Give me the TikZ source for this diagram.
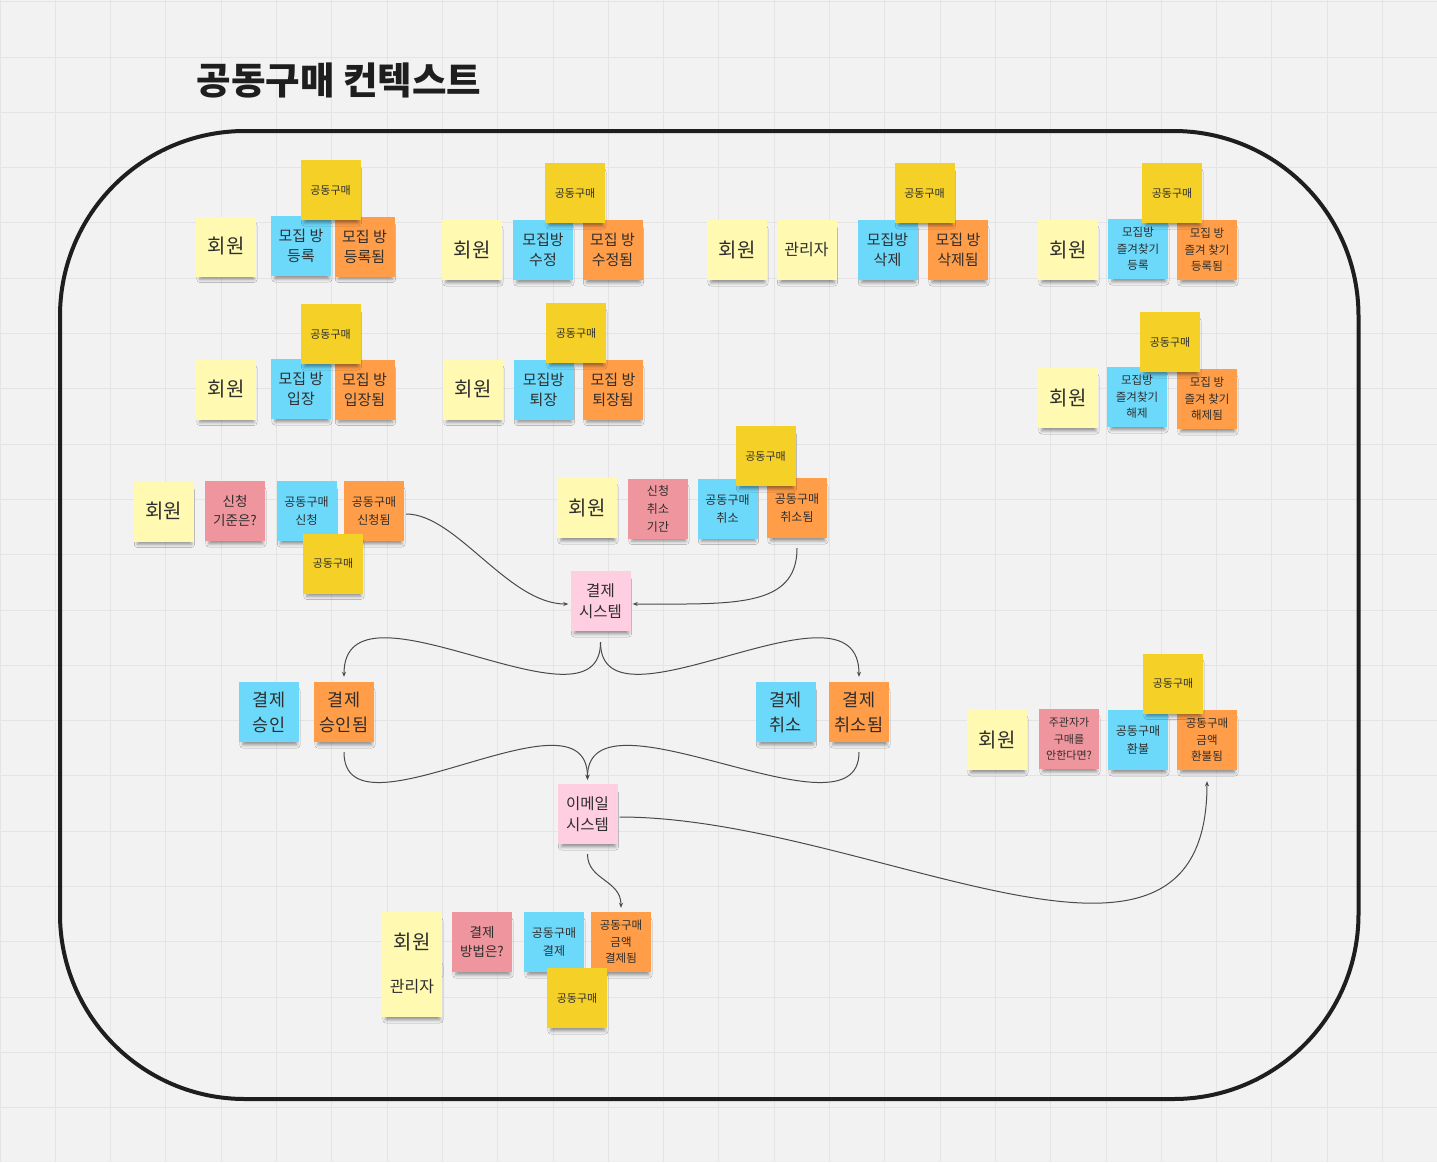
\documentclass[tikz,border=0pt]{standalone}
\usepackage{fontspec}
\newfontfamily\kr{Noto Sans CJK KR}
\usetikzlibrary{arrows.meta,shadows.blur}

\definecolor{bg}{HTML}{F2F2F2}
\definecolor{gridc}{HTML}{E4E4E4}
\definecolor{framec}{HTML}{1E1E1E}
\definecolor{ink}{HTML}{2E2E2E}
\definecolor{lineg}{HTML}{4A4A4A}
\definecolor{lyel}{HTML}{FFF9B1}
\definecolor{lblue}{HTML}{6CD8FA}
\definecolor{orng}{HTML}{FF9D48}
\definecolor{gold}{HTML}{F5D128}
\definecolor{rose}{HTML}{EF959D}
\definecolor{lpink}{HTML}{FFCEE0}

\tikzset{
  note/.style={minimum width=60pt, minimum height=60pt, inner sep=0pt,
    align=center, text=ink,
    blur shadow={shadow xshift=1pt, shadow yshift=-6.5pt,
      shadow blur radius=3.5pt, shadow opacity=40, shadow scale=0.9}},
  member/.style={note, fill=lyel},
  cmd/.style={note, fill=lblue},
  evt/.style={note, fill=orng},
  agg/.style={note, fill=gold},
  pol/.style={note, fill=rose},
  ext/.style={note, fill=lpink},
  fbig/.style={font=\kr\fontsize{20}{24}\selectfont},
  fadm/.style={font=\kr\fontsize{16}{20}\selectfont},
  ftwo/.style={font=\kr\fontsize{15}{20}\selectfont},
  fthree/.style={font=\kr\fontsize{11.5}{16.5}\selectfont},
  ftag/.style={font=\kr\fontsize{11}{14}\selectfont},
  fmid/.style={font=\kr\fontsize{12}{18}\selectfont},
  fsmall/.style={font=\kr\fontsize{11}{16.5}\selectfont},
  fq/.style={font=\kr\fontsize{13.5}{18.5}\selectfont},
  fsys/.style={font=\kr\fontsize{15.5}{21}\selectfont},
  fpay/.style={font=\kr\fontsize{17.5}{25}\selectfont},
  flow/.style={draw=lineg, line width=1pt, -{Stealth[length=5pt,width=4pt]}},
}

\begin{document}
\begin{tikzpicture}[x=1pt,y=-1pt]
\useasboundingbox (0,0) rectangle (1437,1162);

% board background with grid
\fill[bg] (0,0) rectangle (1437,1162);
\foreach \i in {0,...,26} \draw[gridc,line width=1pt] (55.3*\i,0) -- (55.3*\i,1162);
\foreach \j in {0,...,21} \draw[gridc,line width=1pt] (0,1.7+55.3*\j) -- (1437,1.7+55.3*\j);

% title
\node[anchor=west, text=framec, font=\kr\bfseries\fontsize{37.5}{42}\selectfont] (title) at (193,80.5) {공동구매 컨텍스트};

% bounded context frame
\draw[framec, line width=4pt, rounded corners=185pt] (60,131) rectangle (1358.5,1099);

% --- row 1 ---
\node[member, fbig] (m1) at (226,246.5) {회원};
\node[cmd, ftwo] (b1) at (301,246) {모집 방\\등록};
\node[evt, ftwo] (o1) at (364.5,246.5) {모집 방\\등록됨};
\node[agg, ftag] (y1) at (330.5,190) {공동구매};

\node[member, fbig] (m2) at (472,250) {회원};
\node[cmd, ftwo] (b2) at (543,250) {모집방\\수정};
\node[evt, ftwo] (o2) at (612.5,250) {모집 방\\수정됨};
\node[agg, ftag] (y2) at (575,193) {공동구매};

\node[member, fbig] (m3) at (737,250) {회원};
\node[member, fadm] (a3) at (806.5,250) {관리자};
\node[cmd, ftwo] (b3) at (887.5,250) {모집방\\삭제};
\node[evt, ftwo] (o3) at (958,250) {모집 방\\삭제됨};
\node[agg, ftag] (y3) at (924.5,193) {공동구매};

\node[member, fbig] (m4) at (1068,250) {회원};
\node[cmd, fthree] (b4) at (1138,249) {모집방\\즐겨찾기\\등록};
\node[evt, fthree] (o4) at (1207,250) {모집 방\\즐겨 찾기\\등록됨};
\node[agg, ftag] (y4) at (1172,193) {공동구매};

% --- row 2 ---
\node[member, fbig] (m5) at (226,389.5) {회원};
\node[cmd, ftwo] (b5) at (301,389) {모집 방\\입장};
\node[evt, ftwo] (o5) at (364.5,389.5) {모집 방\\입장됨};
\node[agg, ftag] (y5) at (330.5,334) {공동구매};

\node[member, fbig] (m6) at (473,389.5) {회원};
\node[cmd, ftwo] (b6) at (543.5,389.5) {모집방\\퇴장};
\node[evt, ftwo] (o6) at (613,389.5) {모집 방\\퇴장됨};
\node[agg, ftag] (y6) at (576,333) {공동구매};

\node[member, fbig] (m7) at (1068,398) {회원};
\node[cmd, fthree] (b7) at (1137,397) {모집방\\즐겨찾기\\해제};
\node[evt, fthree] (o7) at (1207,399) {모집 방\\즐겨 찾기\\해제됨};
\node[agg, ftag] (y7) at (1170,342) {공동구매};

% --- row 3 ---
\node[member, fbig] (m8) at (163.5,511.5) {회원};
\node[pol, fq] (r8) at (235,511) {신청\\기준은?};
\node[cmd, fmid] (b8) at (306.5,511) {공동구매\\신청};
\node[evt, fmid] (o8) at (374,511) {공동구매\\신청됨};
\node[agg, ftag] (y8) at (333,563.5) {공동구매};

\node[member, fbig] (m9) at (587,508) {회원};
\node[pol, fmid] (r9) at (658,508.5) {신청\\취소\\기간};
\node[cmd, fmid] (b9) at (727.5,508.5) {공동구매\\취소};
\node[evt, fmid] (o9) at (797,508) {공동구매\\취소됨};
\node[agg, ftag] (y9) at (765.5,456) {공동구매};

\node[ext, fsys] (pay) at (600.5,601) {결제\\시스템};

% --- payment outcomes ---
\node[cmd, fpay] (b10) at (269,712) {결제\\승인};
\node[evt, fpay] (o10) at (344,712) {결제\\승인됨};
\node[cmd, fpay] (b11) at (785.5,712) {결제\\취소};
\node[evt, fpay] (o11) at (859,712) {결제\\취소됨};

\node[ext, fsys] (mail) at (587.5,814) {이메일\\시스템};

% --- refund ---
\node[member, fbig] (m12) at (997,740) {회원};
\node[pol, fsmall] (r12) at (1069,739) {주관자가\\구매를\\안한다면?};
\node[cmd, fmid] (b12) at (1138,740) {공동구매\\환불};
\node[evt, fthree] (o12) at (1207,740) {공동구매\\금액\\환불됨};
\node[agg, ftag] (y12) at (1173,683.5) {공동구매};

% --- payment of the group purchase ---
\node[member, fbig] (m13) at (412,942) {회원};
\node[member, fadm] (a13) at (412,987) {관리자};
\node[pol, fq] (r13) at (482,942) {결제\\방법은?};
\node[cmd, fmid] (b13) at (554,942) {공동구매\\결제};
\node[evt, fthree] (o13) at (621,942) {공동구매\\금액\\결제됨};
\node[agg, ftag] (y13) at (577,998) {공동구매};

% --- flows ---
\draw[flow] ([xshift=2pt,yshift=-3pt]o8.east) .. controls +(50,0) and +(-60,0) .. ([xshift=-2pt,yshift=-3pt]pay.west);
\draw[flow] ([yshift=-10pt]o9.south) .. controls +(0,60) and +(100,0) .. ([xshift=2pt,yshift=-3pt]pay.east);

\draw[flow] ([yshift=-11pt]pay.south) .. controls +(0,100) and +(0,-110) .. ([yshift=5pt]o10.north);
\draw[flow] ([yshift=-11pt]pay.south) .. controls +(0,100) and +(0,-110) .. ([yshift=5pt]o11.north);

\draw[flow] ([yshift=-10pt]o10.south) .. controls +(0,95) and +(0,-100) .. ([yshift=4pt]mail.north);
\draw[flow] ([yshift=-10pt]o11.south) .. controls +(0,95) and +(0,-100) .. ([yshift=4pt]mail.north);

\draw[flow] ([yshift=-10pt]mail.south) .. controls +(0,26) and +(0,-28) .. ([yshift=4pt]o13.north);
\draw[flow] ([xshift=2pt,yshift=-3pt]mail.east) .. controls +(250,0) and +(0,250) .. ([yshift=-11pt]o12.south);

\end{tikzpicture}
\end{document}
